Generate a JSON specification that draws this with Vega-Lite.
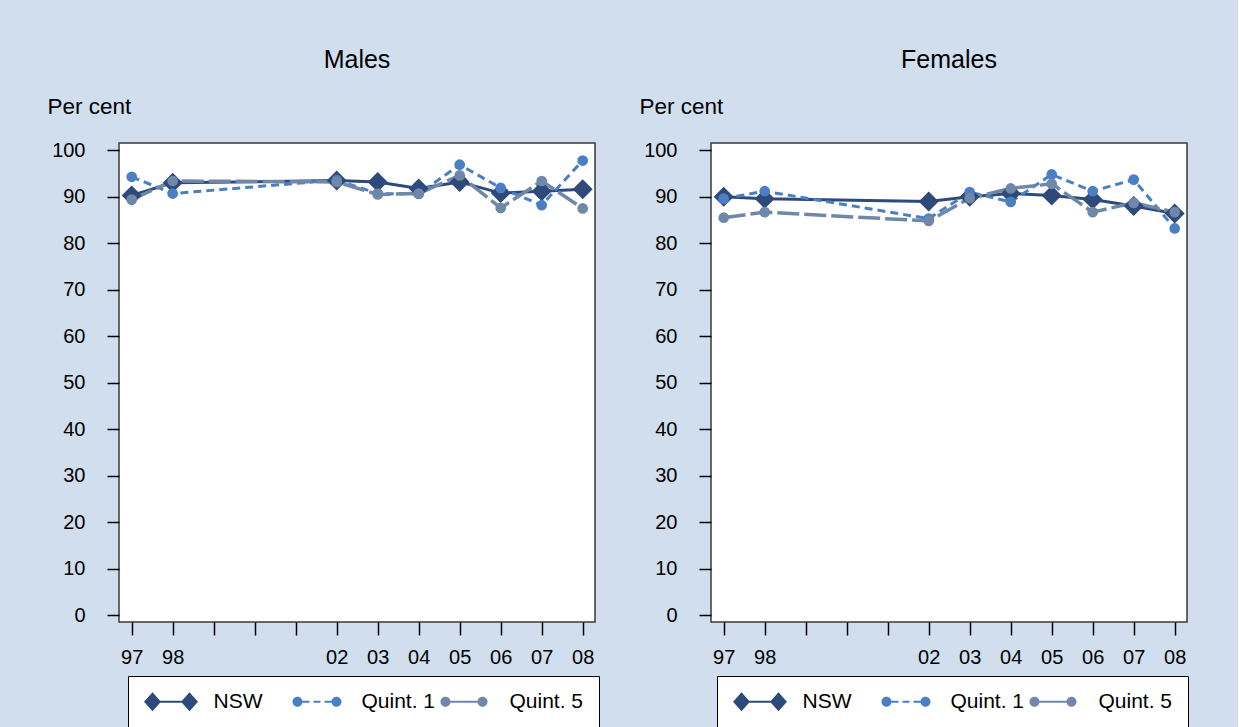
{
  "$schema": "https://vega.github.io/schema/vega-lite/v6.json",
  "background": "#d1deee",
  "padding": {"left": 46, "top": 47, "right": 48, "bottom": 1},
  "spacing": 37,
  "config": {
    "font": "Liberation Sans",
    "view": {"fill": "white", "stroke": "#3a3a3a", "strokeWidth": 1.5},
    "axis": {"grid": false, "domain": false, "tickColor": "black", "tickWidth": 1.5, "labelFont": "Liberation Sans", "labelFontSize": 20, "labelColor": "black", "titleFont": "Liberation Sans", "titleFontWeight": "normal", "titleColor": "black", "titleFontSize": 22.5},
    "legend": {"orient": "none", "legendX": 9, "legendY": 533, "direction": "horizontal", "columns": 3, "gridAlign": "all", "columnPadding": 3, "symbolSize": 400, "symbolOffset": 17.5, "symbolOpacity": 1, "symbolStrokeWidth": 0, "labelFontSize": 21, "labelFont": "Liberation Sans", "labelColor": "black", "labelOffset": 32, "padding": 15, "fillColor": "white", "strokeColor": "black"},
    "title": {"fontSize": 25, "fontWeight": "normal", "font": "Liberation Sans", "color": "black", "anchor": "middle", "frame": "group", "offset": 22}
  },
  "datasets": {
    "d": [
      {"sex": "Males", "series": "NSW", "year": 1997, "value": 90.3},
      {"sex": "Males", "series": "NSW", "year": 1998, "value": 93.0},
      {"sex": "Males", "series": "NSW", "year": 2002, "value": 93.5},
      {"sex": "Males", "series": "NSW", "year": 2003, "value": 93.2},
      {"sex": "Males", "series": "NSW", "year": 2004, "value": 91.8},
      {"sex": "Males", "series": "NSW", "year": 2005, "value": 93.2},
      {"sex": "Males", "series": "NSW", "year": 2006, "value": 90.8},
      {"sex": "Males", "series": "NSW", "year": 2007, "value": 91.2},
      {"sex": "Males", "series": "NSW", "year": 2008, "value": 91.6},
      {"sex": "Males", "series": "Quint. 1", "year": 1997, "value": 94.3},
      {"sex": "Males", "series": "Quint. 1", "year": 1998, "value": 90.7},
      {"sex": "Males", "series": "Quint. 1", "year": 2002, "value": 93.6},
      {"sex": "Males", "series": "Quint. 1", "year": 2003, "value": 90.7},
      {"sex": "Males", "series": "Quint. 1", "year": 2004, "value": 90.6},
      {"sex": "Males", "series": "Quint. 1", "year": 2005, "value": 96.9},
      {"sex": "Males", "series": "Quint. 1", "year": 2006, "value": 91.9},
      {"sex": "Males", "series": "Quint. 1", "year": 2007, "value": 88.2},
      {"sex": "Males", "series": "Quint. 1", "year": 2008, "value": 97.8},
      {"sex": "Males", "series": "Quint. 5", "year": 1997, "value": 89.4},
      {"sex": "Males", "series": "Quint. 5", "year": 1998, "value": 93.4},
      {"sex": "Males", "series": "Quint. 5", "year": 2002, "value": 93.2},
      {"sex": "Males", "series": "Quint. 5", "year": 2003, "value": 90.5},
      {"sex": "Males", "series": "Quint. 5", "year": 2004, "value": 90.7},
      {"sex": "Males", "series": "Quint. 5", "year": 2005, "value": 94.6},
      {"sex": "Males", "series": "Quint. 5", "year": 2006, "value": 87.6},
      {"sex": "Males", "series": "Quint. 5", "year": 2007, "value": 93.4},
      {"sex": "Males", "series": "Quint. 5", "year": 2008, "value": 87.5},
      {"sex": "Females", "series": "NSW", "year": 1997, "value": 90.0},
      {"sex": "Females", "series": "NSW", "year": 1998, "value": 89.6},
      {"sex": "Females", "series": "NSW", "year": 2002, "value": 89.0},
      {"sex": "Females", "series": "NSW", "year": 2003, "value": 90.0},
      {"sex": "Females", "series": "NSW", "year": 2004, "value": 90.7},
      {"sex": "Females", "series": "NSW", "year": 2005, "value": 90.3},
      {"sex": "Females", "series": "NSW", "year": 2006, "value": 89.4},
      {"sex": "Females", "series": "NSW", "year": 2007, "value": 88.0},
      {"sex": "Females", "series": "NSW", "year": 2008, "value": 86.4},
      {"sex": "Females", "series": "Quint. 1", "year": 1997, "value": 89.6},
      {"sex": "Females", "series": "Quint. 1", "year": 1998, "value": 91.2},
      {"sex": "Females", "series": "Quint. 1", "year": 2002, "value": 85.3},
      {"sex": "Females", "series": "Quint. 1", "year": 2003, "value": 91.0},
      {"sex": "Females", "series": "Quint. 1", "year": 2004, "value": 88.9},
      {"sex": "Females", "series": "Quint. 1", "year": 2005, "value": 94.8},
      {"sex": "Females", "series": "Quint. 1", "year": 2006, "value": 91.2},
      {"sex": "Females", "series": "Quint. 1", "year": 2007, "value": 93.7},
      {"sex": "Females", "series": "Quint. 1", "year": 2008, "value": 83.2},
      {"sex": "Females", "series": "Quint. 5", "year": 1997, "value": 85.5},
      {"sex": "Females", "series": "Quint. 5", "year": 1998, "value": 86.7},
      {"sex": "Females", "series": "Quint. 5", "year": 2002, "value": 84.8},
      {"sex": "Females", "series": "Quint. 5", "year": 2003, "value": 89.7},
      {"sex": "Females", "series": "Quint. 5", "year": 2004, "value": 91.8},
      {"sex": "Females", "series": "Quint. 5", "year": 2005, "value": 92.8},
      {"sex": "Females", "series": "Quint. 5", "year": 2006, "value": 86.7},
      {"sex": "Females", "series": "Quint. 5", "year": 2007, "value": 88.7},
      {"sex": "Females", "series": "Quint. 5", "year": 2008, "value": 86.7}
    ]
  },
  "hconcat": [
    {
      "title": "Males",
      "width": 476,
      "height": 479,
      "data": {"name": "d"},
      "transform": [{"filter": "datum.sex === 'Males'"}],
      "encoding": {
        "x": {"field": "year", "type": "quantitative", "scale": {"domain": [1996.69, 2008.3], "nice": false, "zero": false}, "axis": {"values": [1997, 1998, 1999, 2000, 2001, 2002, 2003, 2004, 2005, 2006, 2007, 2008], "labelExpr": "datum.value >= 1999 && datum.value <= 2001 ? '' : format(datum.value % 100, '02d')", "tickSize": 13, "labelPadding": 12, "title": null, "labelFlush": false, "labelOverlap": false}},
        "y": {"field": "value", "type": "quantitative", "scale": {"domain": [-1.44, 101.57], "nice": false, "zero": false}, "axis": {"values": [0, 10, 20, 30, 40, 50, 60, 70, 80, 90, 100], "tickSize": 12, "labelPadding": 22, "title": "Per cent", "titleAngle": 0, "titleX": -72, "titleY": -30, "titleAlign": "left", "titleBaseline": "alphabetic"}}
      },
      "layer": [
        {"transform": [{"filter": "datum.series === 'NSW'"}], "mark": {"type": "line", "strokeWidth": 3, "color": "#2e4a7b"}},
        {"transform": [{"filter": "datum.series === 'Quint. 1'"}], "mark": {"type": "line", "strokeWidth": 3, "color": "#4b7fc3", "strokeDash": [8, 5]}},
        {"transform": [{"filter": "datum.series === 'Quint. 5'"}], "mark": {"type": "line", "strokeWidth": 3.5, "color": "#6f87a8", "strokeDash": [22, 5]}},
        {"transform": [{"filter": "datum.series === 'NSW'"}], "mark": {"type": "point", "shape": "diamond", "filled": true, "opacity": 1, "size": 400, "color": "#2e4a7b"}},
        {"transform": [{"filter": "datum.series === 'Quint. 1'"}], "mark": {"type": "point", "shape": "circle", "filled": true, "opacity": 1, "size": 115, "color": "#4b7fc3"}},
        {"transform": [{"filter": "datum.series === 'Quint. 5'"}], "mark": {"type": "point", "shape": "circle", "filled": true, "opacity": 1, "size": 115, "color": "#6f87a8"}},
        {"mark": {"type": "point", "filled": true, "size": 0, "opacity": 1},
         "encoding": {
           "color": {"field": "series", "type": "nominal", "scale": {"domain": ["NSW", "Quint. 1", "Quint. 5"], "range": ["#2e4a7b", "#4b7fc3", "#6f87a8"]}, "legend": {"title": null}},
           "shape": {"field": "series", "type": "nominal", "scale": {"domain": ["NSW", "Quint. 1", "Quint. 5"], "range": [
             "M-2.7,0L-1.85,-0.95L-1,0L-1.85,0.95ZM1,0L1.85,-0.95L2.7,0L1.85,0.95ZM-1.1,-0.1L1.1,-0.1L1.1,0.1L-1.1,0.1Z",
             "M-2.65,0A0.5,0.5 0 1,0 -1.65,0A0.5,0.5 0 1,0 -2.65,0ZM1.25,0A0.5,0.5 0 1,0 2.25,0A0.5,0.5 0 1,0 1.25,0ZM-1.65,-0.1L-0.95,-0.1L-0.95,0.1L-1.65,0.1ZM-0.55,-0.1L0.15,-0.1L0.15,0.1L-0.55,0.1ZM0.55,-0.1L1.25,-0.1L1.25,0.1L0.55,0.1Z",
             "M-2.65,0A0.5,0.5 0 1,0 -1.65,0A0.5,0.5 0 1,0 -2.65,0ZM1.05,0A0.5,0.5 0 1,0 2.05,0A0.5,0.5 0 1,0 1.05,0ZM-1.65,-0.1L1.05,-0.1L1.05,0.1L-1.65,0.1Z"
           ]}, "legend": {"title": null}}
         }}
      ]
    },
    {
      "title": "Females",
      "width": 476,
      "height": 479,
      "data": {"name": "d"},
      "transform": [{"filter": "datum.sex === 'Females'"}],
      "encoding": {
        "x": {"field": "year", "type": "quantitative", "scale": {"domain": [1996.69, 2008.3], "nice": false, "zero": false}, "axis": {"values": [1997, 1998, 1999, 2000, 2001, 2002, 2003, 2004, 2005, 2006, 2007, 2008], "labelExpr": "datum.value >= 1999 && datum.value <= 2001 ? '' : format(datum.value % 100, '02d')", "tickSize": 13, "labelPadding": 12, "title": null, "labelFlush": false, "labelOverlap": false}},
        "y": {"field": "value", "type": "quantitative", "scale": {"domain": [-1.44, 101.57], "nice": false, "zero": false}, "axis": {"values": [0, 10, 20, 30, 40, 50, 60, 70, 80, 90, 100], "tickSize": 12, "labelPadding": 22, "title": "Per cent", "titleAngle": 0, "titleX": -72, "titleY": -30, "titleAlign": "left", "titleBaseline": "alphabetic"}}
      },
      "layer": [
        {"transform": [{"filter": "datum.series === 'NSW'"}], "mark": {"type": "line", "strokeWidth": 3, "color": "#2e4a7b"}},
        {"transform": [{"filter": "datum.series === 'Quint. 1'"}], "mark": {"type": "line", "strokeWidth": 3, "color": "#4b7fc3", "strokeDash": [8, 5]}},
        {"transform": [{"filter": "datum.series === 'Quint. 5'"}], "mark": {"type": "line", "strokeWidth": 3.5, "color": "#6f87a8", "strokeDash": [22, 5]}},
        {"transform": [{"filter": "datum.series === 'NSW'"}], "mark": {"type": "point", "shape": "diamond", "filled": true, "opacity": 1, "size": 400, "color": "#2e4a7b"}},
        {"transform": [{"filter": "datum.series === 'Quint. 1'"}], "mark": {"type": "point", "shape": "circle", "filled": true, "opacity": 1, "size": 115, "color": "#4b7fc3"}},
        {"transform": [{"filter": "datum.series === 'Quint. 5'"}], "mark": {"type": "point", "shape": "circle", "filled": true, "opacity": 1, "size": 115, "color": "#6f87a8"}},
        {"mark": {"type": "point", "filled": true, "size": 0, "opacity": 1},
         "encoding": {
           "color": {"field": "series", "type": "nominal", "scale": {"domain": ["NSW", "Quint. 1", "Quint. 5"], "range": ["#2e4a7b", "#4b7fc3", "#6f87a8"]}, "legend": {"title": null, "legendX": 6}},
           "shape": {"field": "series", "type": "nominal", "scale": {"domain": ["NSW", "Quint. 1", "Quint. 5"], "range": [
             "M-2.7,0L-1.85,-0.95L-1,0L-1.85,0.95ZM1,0L1.85,-0.95L2.7,0L1.85,0.95ZM-1.1,-0.1L1.1,-0.1L1.1,0.1L-1.1,0.1Z",
             "M-2.65,0A0.5,0.5 0 1,0 -1.65,0A0.5,0.5 0 1,0 -2.65,0ZM1.25,0A0.5,0.5 0 1,0 2.25,0A0.5,0.5 0 1,0 1.25,0ZM-1.65,-0.1L-0.95,-0.1L-0.95,0.1L-1.65,0.1ZM-0.55,-0.1L0.15,-0.1L0.15,0.1L-0.55,0.1ZM0.55,-0.1L1.25,-0.1L1.25,0.1L0.55,0.1Z",
             "M-2.65,0A0.5,0.5 0 1,0 -1.65,0A0.5,0.5 0 1,0 -2.65,0ZM1.05,0A0.5,0.5 0 1,0 2.05,0A0.5,0.5 0 1,0 1.05,0ZM-1.65,-0.1L1.05,-0.1L1.05,0.1L-1.65,0.1Z"
           ]}, "legend": {"title": null, "legendX": 6}}
         }}
      ]
    }
  ],
  "resolve": {"scale": {"color": "independent", "shape": "independent"}, "legend": {"color": "independent", "shape": "independent"}}
}
